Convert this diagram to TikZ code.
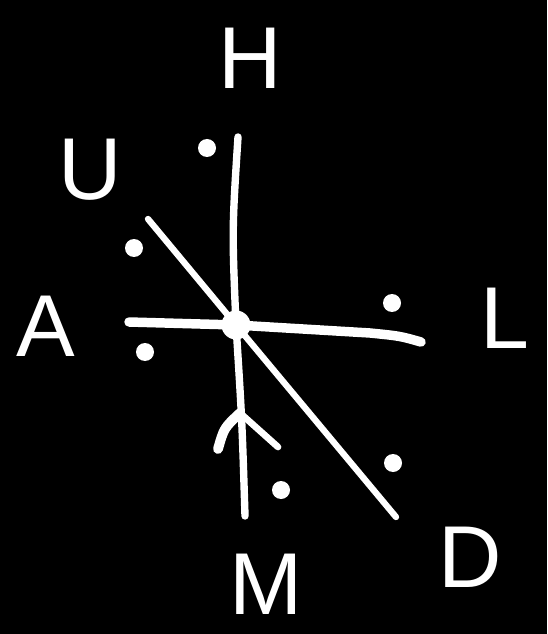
\documentclass[tikz,border=0pt]{standalone}
\usepackage{fontspec}
\setmainfont{Liberation Sans}
\usepackage{tikz}

\begin{document}
\begin{tikzpicture}[x=0.02cm, y=-0.02cm,
  trait/.style={white, line cap=round, line join=round},
  point/.style={circle, fill=white, inner sep=0pt, minimum size=0.36cm},
  lettre/.style={white, font=\fontsize{50}{56}\selectfont}]

% Fond
\fill[black] (0,0) rectangle (547,634);

% Centre et extrémités
\node[circle, fill=white, inner sep=0pt, minimum size=0.58cm] (centre) at (236,325) {};
\coordinate (haut)   at (238,137);
\coordinate (bas)    at (245,516);
\coordinate (gauche) at (129,322);
\coordinate (droite) at (421,342);
\coordinate (nordo)  at (148,219);
\coordinate (sude)   at (396,517);

% Axes
\draw[trait, line width=4.2pt] (haut) .. controls (232,230) .. (centre.center)
  .. controls (242,420) .. (bas);
\draw[trait, line width=5.4pt] (gauche) -- (centre.center) -- (370,333)
  .. controls (400,336) .. (droite);
\draw[trait, line width=3.6pt] (nordo) -- (centre.center) -- (sude);

% Chevron sur l'axe vertical
\coordinate (pointe) at (240,413);
\coordinate (bg)     at (218,449);
\coordinate (bd)     at (278,447);
\draw[trait, line width=5.6pt] (bg) .. controls (224,428) .. (pointe);
\draw[trait, line width=3.8pt] (pointe) -- (bd);

% Points
\node[point] (p1) at (207,148) {};
\node[point] (p2) at (134,248) {};
\node[point] (p3) at (145,352) {};
\node[point] (p4) at (392,303) {};
\node[point] (p5) at (393,463) {};
\node[point] (p6) at (281,490) {};

% Lettres
\node[lettre] (lh) at (250,58)  {H};
\node[lettre] (lu) at (90,170)  {U};
\node[lettre] (la) at (46,326)  {A};
\node[lettre, anchor=west] (ll) at (474,318) {L};
\node[lettre] (ld) at (470,557) {D};
\node[lettre] (lm) at (266,584) {M};

\end{tikzpicture}
\end{document}
